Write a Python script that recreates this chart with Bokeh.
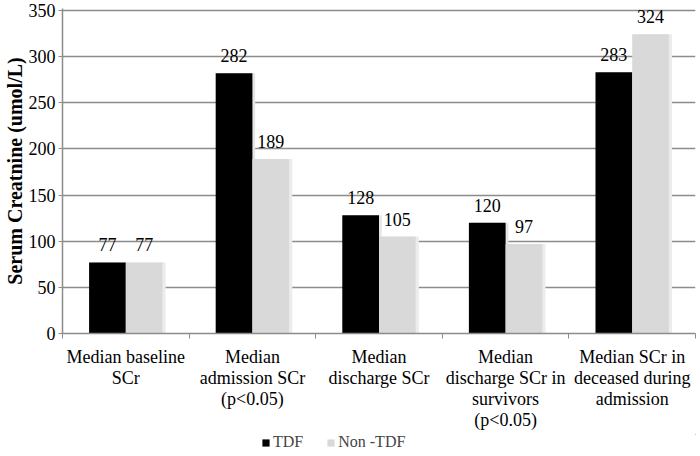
import numpy as np
from bokeh.plotting import figure
from bokeh.layouts import column
from bokeh.models import ColumnDataSource, FixedTicker, Legend, LegendItem, Range1d
from bokeh.core.properties import value
from bokeh.embed import file_html
from bokeh.resources import INLINE

# ---- data ----
categories = [
    "Median baseline\nSCr",
    "Median\nadmission SCr\n(p<0.05)",
    "Median\ndischarge SCr",
    "Median\ndischarge SCr in\nsurvivors\n(p<0.05)",
    "Median SCr in\ndeceased during\nadmission",
]
tdf = [77, 282, 128, 120, 283]
non_tdf = [77, 189, 105, 97, 324]
series_names = ["TDF", "Non -TDF"]
y_ticks = [0, 50, 100, 150, 200, 250, 300, 350]
y_title = "Serum Creatnine (umol/L)"

FONT = "Liberation Serif"
GRID = "#8c8c8c"
BLACK = "#000000"
GREY = "#d9d9d9"

n = len(categories)
xc = np.arange(n) + 0.5
bw = 0.29
off = 0.145

src = ColumnDataSource(dict(
    x_t=xc - off, x_n=xc + off,
    x_ts=xc - off + 0.022, x_ns=xc + off + 0.025,
    tdf=tdf, non=non_tdf,
    tdf_lbl=[str(v) for v in tdf], non_lbl=[str(v) for v in non_tdf],
))

p = figure(width=700, height=434, output_backend="svg", toolbar_location=None,
           x_range=Range1d(0, n), y_range=Range1d(0, 352),
           min_border_left=56, min_border_right=5, min_border_top=8, min_border_bottom=101)
p.outline_line_color = None
p.background_fill_color = "white"

# shadows
p.vbar(x="x_ts", top="tdf", width=bw, source=src, fill_color="#e6e6e6", line_color=None)
p.vbar(x="x_ns", top="non", width=bw, source=src, fill_color="#ececec", line_color=None)
r1 = p.vbar(x="x_t", top="tdf", width=bw, source=src, fill_color=BLACK, line_color=None)
r2 = p.vbar(x="x_n", top="non", width=bw, source=src, fill_color=GREY, line_color=None)

p.text(x="x_t", y="tdf", text="tdf_lbl", source=src, text_align="center", text_baseline="bottom",
       y_offset=-11, text_font=value(FONT), text_font_size="18px", text_color="black")
p.text(x="x_n", y="non", text="non_lbl", source=src, text_align="center", text_baseline="bottom",
       y_offset=-11, text_font=value(FONT), text_font_size="18px", text_color="black")

# x axis
xa = p.xaxis[0]
xa.axis_label = None
xa.ticker = FixedTicker(ticks=list(xc), minor_ticks=list(range(n + 1)))
xa.major_label_overrides = {float(x): c for x, c in zip(xc, categories)}
xa.major_tick_line_color = None
xa.major_tick_out = 0
xa.minor_tick_line_color = GRID
xa.minor_tick_out = 5
xa.minor_tick_in = 0
xa.axis_line_color = GRID
xa.axis_line_width = 1.5
xa.major_label_text_font = FONT
xa.major_label_text_font_size = "18px"
xa.major_label_text_line_height = 1.06
xa.major_label_text_color = "black"
xa.major_label_standoff = 8
xa.major_label_orientation = "horizontal"

# y axis
ya = p.yaxis[0]
ya.ticker = FixedTicker(ticks=y_ticks)
ya.minor_tick_line_color = None
ya.major_tick_line_color = GRID
ya.major_tick_out = 4
ya.major_tick_in = 0
ya.axis_line_color = GRID
ya.axis_line_width = 1.5
ya.major_label_text_font = FONT
ya.major_label_text_font_size = "18px"
ya.major_label_text_color = "black"
ya.major_label_standoff = 3
ya.axis_label = y_title
ya.axis_label_text_font = FONT
ya.axis_label_text_font_size = "20px"
ya.axis_label_text_font_style = "bold"
ya.axis_label_text_color = "black"
ya.axis_label_standoff = 0

p.xgrid.grid_line_color = None
p.ygrid.grid_line_color = GRID
p.ygrid.grid_line_width = 1.5
p.ygrid.ticker = FixedTicker(ticks=y_ticks)

# legend strip below the chart (its swatch renderers sit outside the strip's visible range);
# the column aligns this strip's frame with the chart frame, so x is measured from the y axis
lg = figure(width=700, height=22, output_backend="svg", toolbar_location=None,
            x_axis_location=None, y_axis_location=None,
            x_range=Range1d(-100, -99), y_range=Range1d(-100, -99),
            min_border_left=0, min_border_right=0, min_border_top=0, min_border_bottom=0)
lg.grid.grid_line_color = None
lg.outline_line_color = None
l1 = lg.vbar(x="x_t", top="tdf", width=bw, source=src, fill_color=BLACK, line_color=None)
l2 = lg.vbar(x="x_n", top="non", width=bw, source=src, fill_color=GREY, line_color=None)
legend = Legend(items=[LegendItem(label=series_names[0], renderers=[l1]),
                       LegendItem(label=series_names[1], renderers=[l2])],
                orientation="horizontal", location=(199, 5),
                label_text_font=FONT, label_text_font_size="16px",
                glyph_width=9, glyph_height=9, label_standoff=3, spacing=23,
                border_line_color=None, background_fill_alpha=0,
                padding=0, margin=0, label_height=16)
lg.add_layout(legend, "center")

layout = column(p, lg, spacing=0)
open("out.html", "w").write(file_html(layout, INLINE))
